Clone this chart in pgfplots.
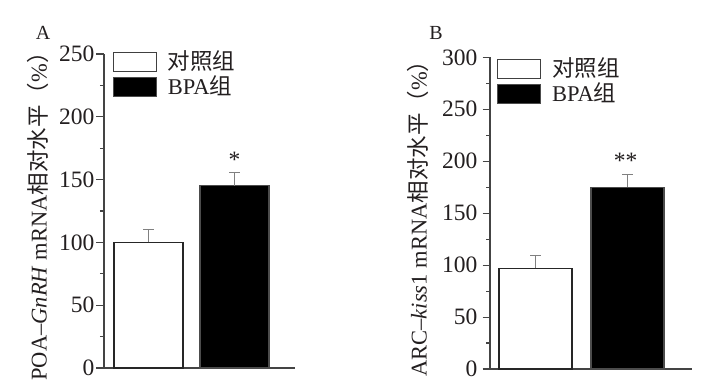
\documentclass[border=0pt]{standalone}
\usepackage{fontspec}
\setmainfont{Liberation Serif}
\newfontfamily\cjk{Noto Sans CJK SC}
\usepackage{pgfplots}
\pgfplotsset{compat=1.18}
\definecolor{txt}{HTML}{231F20}
\definecolor{axc}{HTML}{444444}
\definecolor{errc}{HTML}{808080}
\newcommand{\bigf}{\fontsize{23.5}{26}\selectfont}
\newcommand{\labf}{\fontsize{22.5}{25}\selectfont}
\pgfplotsset{
  panel/.style={
    scale only axis,
    axis x line=bottom, axis y line=left,
    axis line style={-, axc, line width=1.6pt},
    xtick=\empty,
    minor y tick num=1,
    tick align=outside,
    major tick length=7.5pt, minor tick length=4pt,
    every tick/.style={axc, line width=1.1pt},
    /pgf/number format/assume math mode=true,
    yticklabel style={font=\bigf, text=txt, inner sep=0pt},
    ylabel style={font=\labf, text=txt, anchor=center},
    clip=false,
    legend cell align=left,
    legend style={draw=none, fill=none, inner sep=0pt, outer sep=0pt,
      font=\labf, text=txt, row sep=4pt,
      nodes={inner sep=0pt, anchor=base west},
      /tikz/every odd column/.append style={column sep=11pt}},
    error bars/y dir=plus, error bars/y explicit,
    error bars/error bar style={errc, line width=1pt},
    error bars/error mark options={rotate=90, mark size=5.5pt, errc, line width=1pt},
  },
  ctrl/.style={ybar, bar shift=0pt, fill=white, draw=black!85, line width=1.2pt,
    legend image code/.code={\draw[fill=white, draw=black!75, line width=1pt] (0pt,-2pt) rectangle (43pt,17pt);}},
  bpa/.style={ybar, bar shift=0pt, fill=black, draw=black!70, line width=1.2pt,
    legend image code/.code={\draw[fill=black, draw=black!70, line width=1pt] (0pt,-2pt) rectangle (43pt,17pt);}},
}
\begin{document}
\begin{tikzpicture}
\useasboundingbox (0,0) rectangle (712pt,389pt);
\node[font=\fontsize{20}{22}\selectfont, text=txt] at (43pt,356pt) {A};
\node[font=\fontsize{20}{22}\selectfont, text=txt] at (436pt,356pt) {B};
\begin{axis}[panel,
  at={(104pt,21pt)}, anchor=south west,
  width=191pt, height=314pt,
  xmin=0, xmax=191, ymin=0, ymax=250,
  ytick={0,50,...,250},
  yticklabel style={xshift=-2pt},
  ylabel={POA--\textit{GnRH} mRNA{\cjk 相对水平（}\%{\cjk ）}},
  ylabel style={at={(axis description cs:-0.3455,0.5)}},
  legend style={at={(axis description cs:0.047,1.012)}, anchor=north west},
  bar width=69,
]
\addplot[ctrl] coordinates {(44.5,100) +- (0,10)};
\addlegendentry{{\cjk 对照组}}
\addplot[bpa] coordinates {(130.5,145) +- (0,11)};
\addlegendentry{BPA{\cjk 组}}
\node[font=\bigf, text=txt] at (axis cs:130.5,166) {*};
\end{axis}
\begin{axis}[panel,
  at={(490pt,20pt)}, anchor=south west,
  width=202pt, height=311.7pt,
  xmin=0, xmax=202, ymin=0, ymax=300,
  ytick={0,50,...,300},
  yticklabel style={xshift=-5pt},
  ylabel={ARC--\textit{kiss}1 mRNA{\cjk 相对水平（}\%{\cjk ）}},
  ylabel style={at={(axis description cs:-0.356,0.5)}},
  legend style={at={(axis description cs:0.035,1.0)}, anchor=north west},
  bar width=73,
]
\addplot[ctrl] coordinates {(45.5,97) +- (0,12)};
\addlegendentry{{\cjk 对照组}}
\addplot[bpa] coordinates {(137.5,175) +- (0,12)};
\addlegendentry{BPA{\cjk 组}}
\node[font=\bigf, text=txt] at (axis cs:135.7,200) {**};
\end{axis}
\end{tikzpicture}
\end{document}
